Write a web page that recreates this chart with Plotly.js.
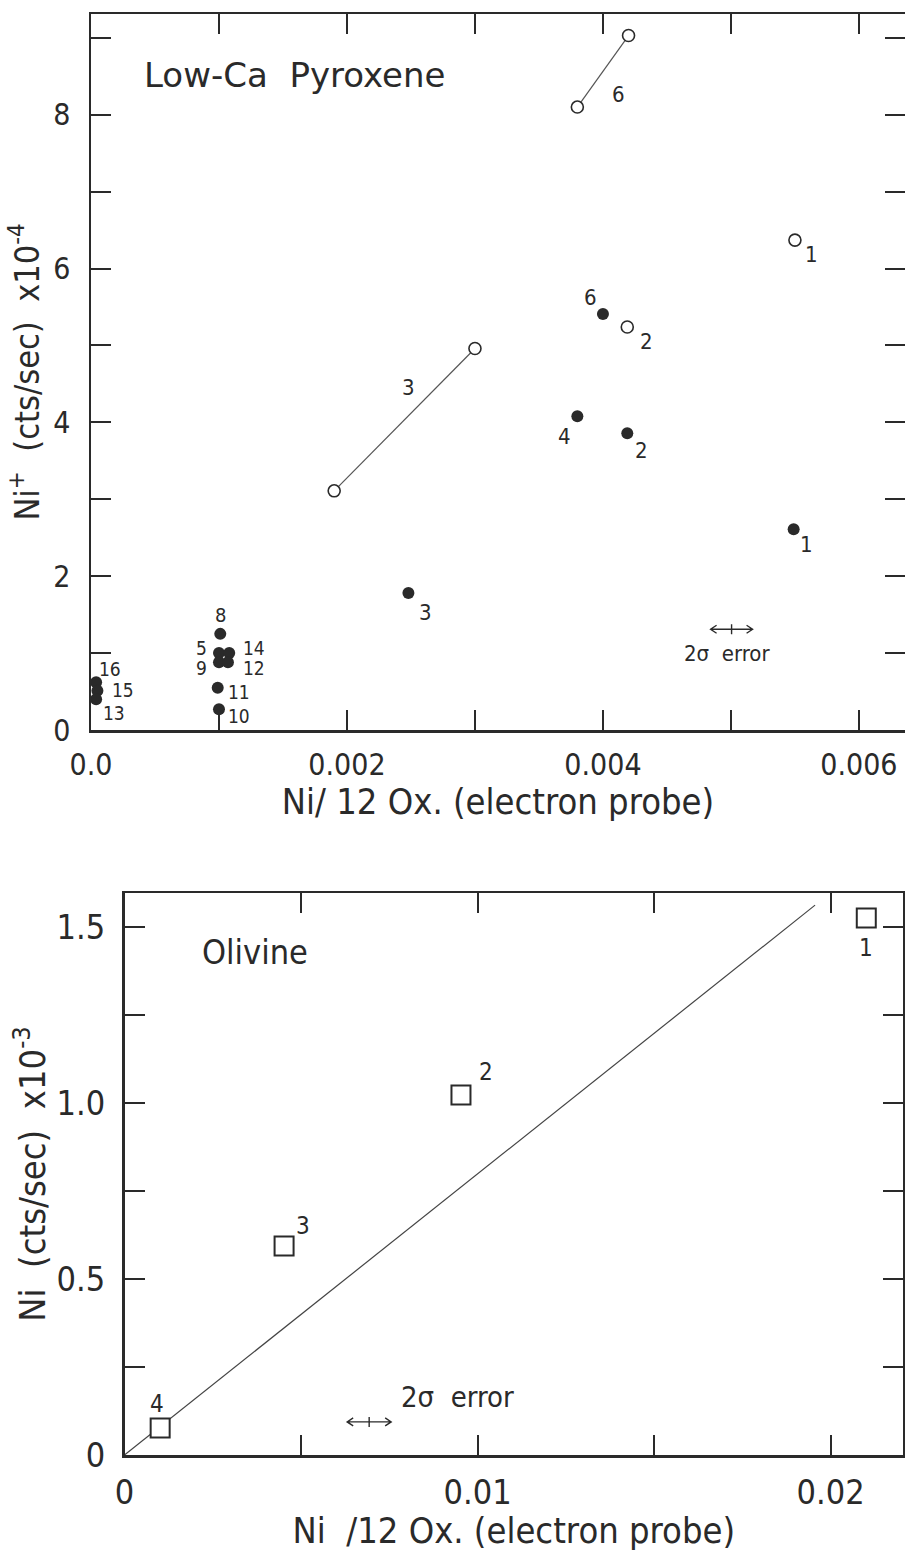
<!DOCTYPE html>
<html>
<head>
<meta charset="utf-8">
<script src="https://cdn.plot.ly/plotly-3.0.1.min.js"></script>
<style>html,body{margin:0;padding:0;background:#fff;}#chart{width:905px;height:1551px;}</style>
</head>
<body>
<div id="chart"></div>
<script>
// ---------- Low-Ca Pyroxene (top panel) ----------
// open circles (paired measurements joined by lines)
const pxOpen6X = [0.00380, 0.00420];
const pxOpen6Y = [8.10, 9.03];
const pxOpen3X = [0.00190, 0.00300];
const pxOpen3Y = [3.11, 4.96];
const pxOpenX = [0.00550, 0.00419];
const pxOpenY = [6.37, 5.24];
// filled circles
const pxFilledLabels = ['6','4','2','1','3','8','5','14','9','12','11','10','16','15','13'];
const pxFilledX = [0.00400, 0.00380, 0.00419, 0.00549, 0.00248, 0.00101, 0.00100, 0.00108, 0.00100, 0.00107, 0.00099, 0.00100, 0.00004, 0.00005, 0.00004];
const pxFilledY = [5.41, 4.08, 3.86, 2.61, 1.78, 1.25, 1.00, 1.00, 0.88, 0.88, 0.55, 0.27, 0.62, 0.51, 0.40];
const pxXTicks = [0, 0.002, 0.004, 0.006];
const pxXTickText = ['0.0', '0.002', '0.004', '0.006'];
const pxXMinor = [0.001, 0.003, 0.005];
const pxYTicks = [0, 2, 4, 6, 8];
const pxYTickText = ['0', '2', '4', '6', '8'];
const pxYMinor = [1, 3, 5, 7, 9];

// ---------- Olivine (bottom panel) ----------
const olLabels = ['1', '2', '3', '4'];
const olX = [0.02101, 0.00953, 0.00452, 0.00101];
const olY = [1.526, 1.023, 0.594, 0.077];
const olLineX = [0, 0.01956];
const olLineY = [0, 1.5625];
const olXTicks = [0, 0.01, 0.02];
const olXTickText = ['0', '0.01', '0.02'];
const olXMinor = [0.005, 0.015];
const olYTicks = [0, 0.5, 1.0, 1.5];
const olYTickText = ['0', '0.5', '1.0', '1.5'];
const olYMinor = [0.25, 0.75, 1.25];

// label positions (text, x, y, size) for point numbers
const pxLabelPos = [
  ['6', 0.00412, 8.26, 22], ['3', 0.00248, 4.45, 22], ['1', 0.00563, 6.18, 22], ['2', 0.00434, 5.05, 22],
  ['6', 0.00390, 5.62, 22], ['4', 0.00370, 3.82, 22], ['2', 0.00430, 3.64, 22], ['1', 0.00559, 2.41, 22],
  ['3', 0.00261, 1.53, 22], ['8', 0.00101, 1.50, 20], ['5', 0.00086, 1.06, 19], ['14', 0.00127, 1.06, 19],
  ['9', 0.00086, 0.81, 19], ['12', 0.00127, 0.81, 19], ['11', 0.00116, 0.49, 19], ['10', 0.00116, 0.18, 19],
  ['16', 0.00015, 0.79, 19], ['15', 0.00025, 0.52, 19], ['13', 0.00018, 0.22, 19]
];
const olLabelPos = [['1', 0.02101, 1.44], ['2', 0.01024, 1.088], ['3', 0.00506, 0.651], ['4', 0.00092, 0.145]];

const FONT = '"DejaVu Sans Condensed", "Liberation Sans", sans-serif';
const INK = '#2a2a2a';

const traces = [
  {x: pxOpen6X, y: pxOpen6Y, xaxis: 'x', yaxis: 'y', mode: 'lines+markers', cliponaxis: false,
   line: {color: '#555', width: 1.2},
   marker: {symbol: 'circle', size: 12, color: '#fff', line: {color: INK, width: 1.6}}},
  {x: pxOpen3X, y: pxOpen3Y, xaxis: 'x', yaxis: 'y', mode: 'lines+markers', cliponaxis: false,
   line: {color: '#555', width: 1.2},
   marker: {symbol: 'circle', size: 12, color: '#fff', line: {color: INK, width: 1.6}}},
  {x: pxOpenX, y: pxOpenY, xaxis: 'x', yaxis: 'y', mode: 'markers', cliponaxis: false,
   marker: {symbol: 'circle', size: 12, color: '#fff', line: {color: INK, width: 1.6}}},
  {x: pxFilledX, y: pxFilledY, text: pxFilledLabels, xaxis: 'x', yaxis: 'y', mode: 'markers', cliponaxis: false,
   marker: {symbol: 'circle', size: 12, color: INK, line: {width: 0}}},
  {x: olLineX, y: olLineY, xaxis: 'x2', yaxis: 'y2', mode: 'lines', cliponaxis: false,
   line: {color: '#444', width: 1.2}},
  {x: olX, y: olY, text: olLabels, xaxis: 'x2', yaxis: 'y2', mode: 'markers', cliponaxis: false,
   marker: {symbol: 'square', size: 19, color: '#fff', line: {color: INK, width: 2}}}
];

function minorTicks(vals) {
  return {tickmode: 'array', tickvals: vals, ticks: 'inside', ticklen: 20, tickwidth: 2, tickcolor: INK, showgrid: false};
}

const axisCommon = {
  showgrid: false, zeroline: false, showline: true, linecolor: INK, linewidth: 2.5,
  mirror: 'ticks', ticks: 'inside', ticklen: 20, tickwidth: 2, tickcolor: INK,
  tickmode: 'array', tickfont: {family: FONT, size: 30, color: INK}, fixedrange: true
};

const annotations = [];
pxLabelPos.forEach(function (l) {
  annotations.push({xref: 'x', yref: 'y', x: l[1], y: l[2], text: l[0], showarrow: false,
    font: {family: FONT, size: l[3], color: INK}});
});
olLabelPos.forEach(function (l) {
  annotations.push({xref: 'x2', yref: 'y2', x: l[1], y: l[2], text: l[0], showarrow: false,
    font: {family: FONT, size: 24, color: INK}});
});
annotations.push({xref: 'x', yref: 'y', x: 0.0004, y: 8.52, xanchor: 'left', text: 'Low-Ca  Pyroxene',
  showarrow: false, font: {family: '"DejaVu Sans", sans-serif', size: 34, color: INK}});
annotations.push({xref: 'x2', yref: 'y2', x: 0.00214, y: 1.43, xanchor: 'left', text: 'Olivine',
  showarrow: false, font: {family: FONT, size: 34, color: INK}});
annotations.push({xref: 'x', yref: 'y', x: 0.00497, y: 1.00, text: '2σ  error', showarrow: false,
  font: {family: FONT, size: 22, color: INK}});
annotations.push({xref: 'x2', yref: 'y2', x: 0.00778, y: 0.165, xanchor: 'left', text: '2σ  error', showarrow: false,
  font: {family: FONT, size: 29, color: INK}});

// double-headed 2-sigma error arrows, drawn in pixel units around an anchor
function errArrow(xr, yr, xc, yc, half) {
  const h = half, a = 6, b = 4;
  return {type: 'path', xref: xr, yref: yr, xsizemode: 'pixel', ysizemode: 'pixel', xanchor: xc, yanchor: yc,
    path: 'M' + (-h) + ',0 L' + h + ',0 M' + (-h + a) + ',' + (-b) + ' L' + (-h) + ',0 L' + (-h + a) + ',' + b +
          ' M' + (h - a) + ',' + (-b) + ' L' + h + ',0 L' + (h - a) + ',' + b + ' M0,-5 L0,5',
    line: {color: INK, width: 1.4}};
}
const shapes = [
  errArrow('x', 'y', 0.005005, 1.31, 21),
  errArrow('x2', 'y2', 0.00693, 0.094, 22)
];

const layout = {
  width: 905, height: 1551,
  margin: {l: 0, r: 0, t: 0, b: 0},
  paper_bgcolor: '#fff', plot_bgcolor: '#fff',
  showlegend: false,
  font: {family: FONT, color: INK},
  xaxis: Object.assign({}, axisCommon, {
    domain: [91 / 905, 1], range: [0, 0.00636], anchor: 'y',
    tickvals: pxXTicks, ticktext: pxXTickText, ticklabelstandoff: 6, minor: minorTicks(pxXMinor),
    title: {text: 'Ni/ 12 Ox. (electron probe)', font: {family: FONT, size: 36, color: INK}, standoff: 6}
  }),
  yaxis: Object.assign({}, axisCommon, {
    domain: [1 - 730 / 1551, 1 - 14 / 1551], range: [0, 9.31], anchor: 'x',
    tickvals: pxYTicks, ticktext: pxYTickText, ticklabelstandoff: 12, minor: minorTicks(pxYMinor),
    title: {text: 'Ni<sup>+</sup>  (cts/sec)  x10<sup>-4</sup>', font: {family: FONT, size: 34, color: INK}, standoff: 4}
  }),
  xaxis2: Object.assign({}, axisCommon, {
    domain: [124.5 / 905, 903 / 905], range: [0, 0.02205], anchor: 'y2',
    tickvals: olXTicks, ticktext: olXTickText, ticklabelstandoff: 6, minor: minorTicks(olXMinor),
    tickfont: {family: FONT, size: 34, color: INK},
    title: {text: 'Ni  /12 Ox. (electron probe)', font: {family: FONT, size: 36, color: INK}, standoff: 6}
  }),
  yaxis2: Object.assign({}, axisCommon, {
    domain: [1 - 1455 / 1551, 1 - 893 / 1551], range: [0, 1.597], anchor: 'x2',
    tickvals: olYTicks, ticktext: olYTickText, ticklabelstandoff: 10, minor: minorTicks(olYMinor),
    tickfont: {family: FONT, size: 34, color: INK},
    title: {text: 'Ni  (cts/sec)  x10<sup>-3</sup>', font: {family: FONT, size: 36, color: INK}, standoff: 0}
  }),
  annotations: annotations,
  shapes: shapes
};

Plotly.newPlot('chart', traces, layout, {staticPlot: true, displayModeBar: false});
</script>
</body>
</html>
